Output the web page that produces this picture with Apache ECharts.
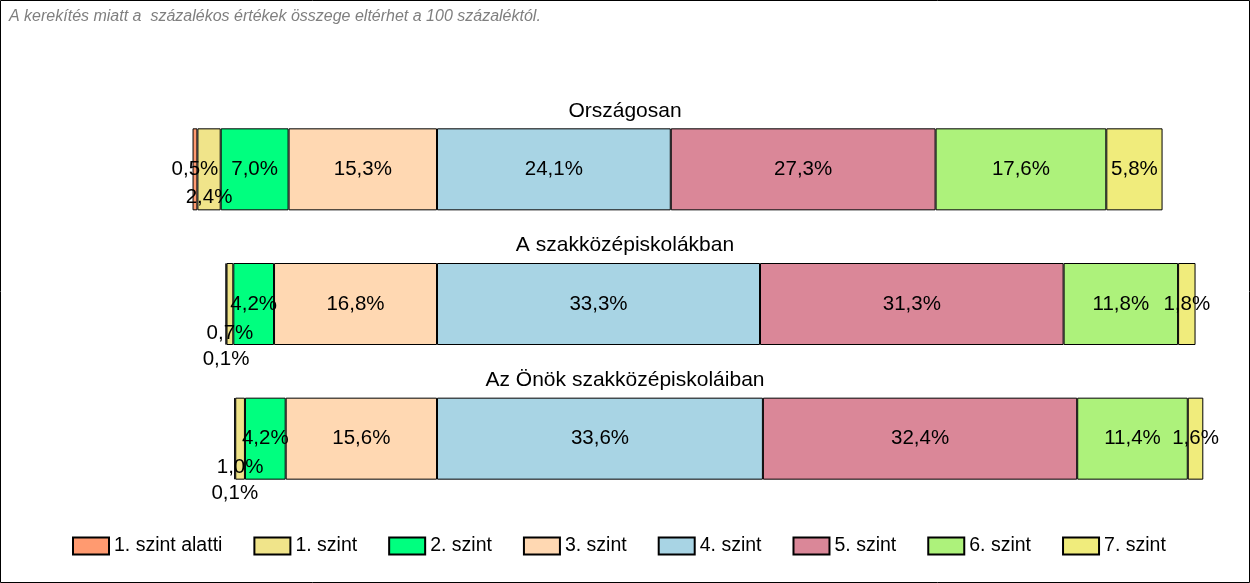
<!DOCTYPE html>
<html>
<head>
<meta charset="utf-8">
<script src="https://cdn.jsdelivr.net/npm/echarts@6/dist/echarts.min.js"></script>
<style>
html,body{margin:0;padding:0;background:#fff;}
#chart{width:1250px;height:583px;}
</style>
</head>
<body>
<div id="chart"></div>
<script>
// ---- data ----
const categories = ['Országosan', 'A szakközépiskolákban', 'Az Önök szakközépiskoláiban'];
const levelNames = ['1. szint alatti', '1. szint', '2. szint', '3. szint', '4. szint', '5. szint', '6. szint', '7. szint'];
const lvlBelow1 = [0.5, 0.1, 0.1];
const lvl1 = [2.4, 0.7, 1.0];
const lvl2 = [7.0, 4.2, 4.2];
const lvl3 = [15.3, 16.8, 15.6];
const lvl4 = [24.1, 33.3, 33.6];
const lvl5 = [27.3, 31.3, 32.4];
const lvl6 = [17.6, 11.8, 11.4];
const lvl7 = [5.8, 1.8, 1.6];
const noteText = 'A kerekítés miatt a  százalékos értékek összege eltérhet a 100 százaléktól.';

// ---- style ----
const colors = {
  '1. szint alatti': '#FF9A70',
  '1. szint': '#F0E48A',
  '2. szint': '#00FF7F',
  '3. szint': '#FFD8B2',
  '4. szint': '#A8D4E4',
  '5. szint': '#DA8798',
  '6. szint': '#ADF27B',
  '7. szint': '#F0EC7C'
};
// vertical shifts of labels for very thin segments (per row), in px
const labelShift = {
  '1. szint alatti': [0, 55, 55],
  '1. szint': [28, 29, 29]
};
const FONT = '"Liberation Sans", Arial, sans-serif';

const valuesByLevel = {
  '1. szint alatti': lvlBelow1,
  '1. szint': lvl1,
  '2. szint': lvl2,
  '3. szint': lvl3,
  '4. szint': lvl4,
  '5. szint': lvl5,
  '6. szint': lvl6,
  '7. szint': lvl7
};
// levels left of the 3|4 boundary are drawn as negative values (stacked outward from 0)
const leftSide = ['3. szint', '2. szint', '1. szint', '1. szint alatti'];
const rightSide = ['4. szint', '5. szint', '6. szint', '7. szint'];

function makeSeries(name, sign) {
  const vals = valuesByLevel[name];
  const shifts = labelShift[name];
  return {
    name: name,
    type: 'bar',
    stack: 'total',
    barWidth: 82,
    itemStyle: { color: colors[name], borderColor: '#000', borderWidth: 1 },
    label: {
      show: true,
      position: 'inside',
      color: '#000',
      fontFamily: FONT,
      fontSize: 20.5,
      formatter: p => Math.abs(p.value).toFixed(1).replace('.', ',') + '%'
    },
    labelLayout: function (params) {
      return { hideOverlap: false, dy: shifts ? shifts[params.dataIndex] : 0 };
    },
    emphasis: { disabled: true },
    data: vals.map(v => sign * v)
  };
}

const series = [];
leftSide.forEach(n => series.push(makeSeries(n, -1)));
rightSide.forEach(n => series.push(makeSeries(n, 1)));

const chart = echarts.init(document.getElementById('chart'), null, { renderer: 'canvas' });
chart.setOption({
  animation: false,
  backgroundColor: '#fff',
  title: [
    { text: noteText, left: 4, top: 4, textStyle: { fontFamily: FONT, fontSize: 16, fontStyle: 'italic', fontWeight: 'normal', color: '#7f7f7f' } },
    { text: categories[0], left: 'center', top: 96, textStyle: { fontFamily: FONT, fontSize: 21, fontWeight: 'normal', color: '#000' } },
    { text: categories[1], left: 'center', top: 230, textStyle: { fontFamily: FONT, fontSize: 21, fontWeight: 'normal', color: '#000' } },
    { text: categories[2], left: 'center', top: 365, textStyle: { fontFamily: FONT, fontSize: 21, fontWeight: 'normal', color: '#000' } }
  ],
  legend: {
    data: levelNames,
    left: 67,
    top: 531,
    icon: 'rect',
    itemWidth: 36,
    itemHeight: 17,
    itemGap: 31,
    textStyle: { fontFamily: FONT, fontSize: 19.5, color: '#000' },
    selectedMode: false
  },
  grid: { left: 146, right: 37, top: 102, height: 404 },
  xAxis: { type: 'value', min: -30, max: 80, show: false },
  yAxis: { type: 'category', data: categories, inverse: true, show: false },
  series: series,
  graphic: [
    { type: 'rect', shape: { x: 0.5, y: 0.5, width: 1249, height: 582 }, style: { fill: 'none', stroke: '#000', lineWidth: 1 }, silent: true }
  ]
});
</script>
</body>
</html>
